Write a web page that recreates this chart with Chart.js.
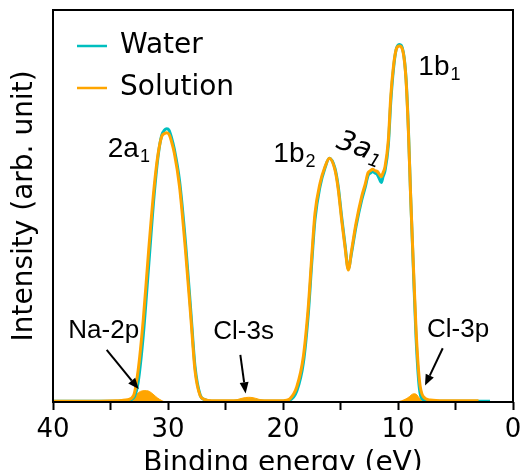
<!DOCTYPE html>
<html>
<head>
<meta charset="utf-8">
<script src="https://cdn.jsdelivr.net/npm/chart.js@4.4.1/dist/chart.umd.min.js"></script>
<style>
  html, body { margin: 0; padding: 0; background: #fff; }
  #wrap { width: 522px; height: 470px; overflow: hidden; }
</style>
</head>
<body>
<div id="wrap"><canvas id="xpsChart" width="522" height="470"></canvas></div>
<script>
// binding energy grid (eV) shared by both spectra
const energy = [
  40, 38, 36, 34.5, 34, 33.5, 33.0, 32.6, 32.15, 31.7,
  31.2, 30.85, 30.55, 30.3, 30.1, 29.9, 29.7, 29.45, 29.0, 28.46,
  28.0, 27.65, 27.2, 26.8, 26.2, 25, 24, 23, 22, 21,
  20, 19.8, 19.4, 18.8, 18.23, 17.8, 17.5, 17.22, 16.78, 16.35,
  15.97, 15.48, 15.19, 14.9, 14.61, 14.32, 14.03, 13.65, 13.16, 12.85,
  12.6, 12.4, 12.2, 12.0, 11.8, 11.6, 11.45, 11.3, 11.13, 10.84,
  10.63, 10.4, 10.17, 9.89, 9.54, 9.3, 9.1, 8.9, 8.67, 8.43,
  8.14, 7.8, 7.2, 6, 5, 4, 3, 2
];
const solution = [
  .002, .002, .002, .003, .004, .006, .016, .08, .21, .38,
  .55, .635, .677, .685, .687, .682, .665, .635, .55, .38,
  .21, .08, .016, .006, .003, .003, .003, .003, .003, .003,
  .003, .004, .008, .039, .116, .243, .371, .481, .558, .60,
  .622, .592, .541, .464, .396, .337, .388, .456, .524, .556,
  .585, .59, .594, .59, .588, .58, .575, .585, .60, .668,
  .779, .855, .898, .908, .89, .821, .694, .524, .354, .184,
  .056, .0135, .005, .003, .003, .003, .003, null
];
const water = [
  .002, .002, .002, .002, .003, .004, .010, .05, .17, .34,
  .53, .63, .68, .694, .697, .693, .675, .645, .565, .40,
  .225, .09, .018, .006, .002, .002, .002, .002, .002, .002,
  .002, .003, .005, .028, .10, .225, .355, .465, .55, .597,
  .622, .596, .548, .472, .402, .34, .382, .448, .515, .548,
  .578, .584, .588, .584, .58, .568, .56, .575, .59, .655,
  .765, .848, .898, .912, .893, .825, .70, .525, .345, .165,
  .035, .006, .002, .002, .002, .002, .002, .002
];
// solution minus water (Na-2p, Cl-3s, Cl-3p contributions)
const diffEnergy = [
  40, 33.3, 33.0, 32.7, 32.4, 32.0, 31.7, 31.3, 30.9, 30.5, 30.2,
  25.2, 24.6, 24.0, 23.5, 23.0, 22.6, 22.1, 21.5, 20.8,
  10.2, 9.7, 9.3, 9.0, 8.75, 8.55, 8.35, 8.15, 7.95, 7.7,
  2
];
const diffIntensity = [
  0, 0, .006, .02, .027, .029, .028, .02, .01, .003, 0,
  0, .002, .006, .01, .012, .011, .007, .003, 0,
  0, .003, .008, .014, .02, .021, .018, .01, .004, 0,
  0
];
const xTickLabels = [0, 10, 20, 30, 40];

const orange = '#ffa500';
const cyan = '#00bfbf';

const peakLabels = [
  { text: '2a', sub: '1', e: 35.24, v: 0.626 },
  { text: '1b', sub: '2', e: 20.84, v: 0.611 },
  { text: '1b', sub: '1', e: 8.23, v: 0.834 }
];
const markerLabels = [
  { text: 'Na-2p', e: 38.67, v: 0.1625, from: [35.33, 0.133], to: [32.55, 0.033] },
  { text: 'Cl-3s', e: 26.06, v: 0.16, from: [23.71, 0.12], to: [23.25, 0.022] },
  { text: 'Cl-3p', e: 7.48, v: 0.167, from: [6.11, 0.137], to: [7.65, 0.042] }
];

function toPoints(xs, ys) {
  return xs.map((x, i) => ({ x: x, y: ys[i] }));
}

function drawArrow(ctx, x0, y0, x1, y1) {
  const ang = Math.atan2(y1 - y0, x1 - x0);
  const head = 11, half = 4.5;
  const bx = x1 - head * Math.cos(ang), by = y1 - head * Math.sin(ang);
  ctx.lineWidth = 2;
  ctx.beginPath(); ctx.moveTo(x0, y0); ctx.lineTo(bx, by); ctx.stroke();
  ctx.beginPath();
  ctx.moveTo(x1, y1);
  ctx.lineTo(bx + half * Math.sin(ang), by - half * Math.cos(ang));
  ctx.lineTo(bx - half * Math.sin(ang), by + half * Math.cos(ang));
  ctx.closePath(); ctx.fill();
}

const overlay = {
  id: 'overlay',
  afterDatasetsDraw(chart) {
    const { ctx, chartArea: a, scales: { x, y } } = chart;
    ctx.save();
    ctx.strokeStyle = '#000';
    ctx.fillStyle = '#000';
    ctx.lineWidth = 2;
    ctx.strokeRect(a.left, a.top, a.right - a.left, a.bottom - a.top);

    // legend
    let row = 0;
    chart.data.datasets.forEach(ds => {
      if (!ds.label) return;
      const ly = a.top + 36 + row * 42;
      ctx.strokeStyle = ds.borderColor; ctx.lineWidth = 2.5;
      ctx.beginPath(); ctx.moveTo(a.left + 24, ly); ctx.lineTo(a.left + 54, ly); ctx.stroke();
      ctx.fillStyle = '#000';
      ctx.font = '28px "DejaVu Sans"';
      ctx.textBaseline = 'middle'; ctx.textAlign = 'left';
      ctx.fillText(ds.label, a.left + 67, ly);
      row++;
    });

    // peak labels with subscripts
    ctx.textBaseline = 'alphabetic';
    ctx.fillStyle = '#000'; ctx.strokeStyle = '#000';
    peakLabels.forEach(p => {
      const px = x.getPixelForValue(p.e), py = y.getPixelForValue(p.v);
      ctx.font = '28px "Liberation Sans"';
      ctx.fillText(p.text, px, py);
      const w = ctx.measureText(p.text).width;
      ctx.font = '18px "Liberation Sans"';
      ctx.fillText(p.sub, px + w + 1, py + 5);
    });

    // rotated 3a1
    ctx.save();
    ctx.translate(x.getPixelForValue(15.48), y.getPixelForValue(0.65));
    ctx.rotate(20 * Math.PI / 180);
    ctx.font = 'italic 28px "DejaVu Sans"';
    ctx.fillText('3a', 0, 0);
    const w3 = ctx.measureText('3a').width;
    ctx.font = 'italic 18px "DejaVu Sans"';
    ctx.fillText('1', w3 + 1, 5);
    ctx.restore();

    // ion labels + arrows
    markerLabels.forEach(m => {
      ctx.font = '26px "Liberation Sans"';
      ctx.fillText(m.text, x.getPixelForValue(m.e), y.getPixelForValue(m.v));
      drawArrow(ctx,
        x.getPixelForValue(m.from[0]), y.getPixelForValue(m.from[1]),
        x.getPixelForValue(m.to[0]), y.getPixelForValue(m.to[1]));
    });
    ctx.restore();
  }
};

new Chart('xpsChart', {
  type: 'line',
  data: {
    datasets: [
      {
        label: 'Water',
        data: toPoints(energy, water),
        borderColor: cyan,
        borderWidth: 3,
        pointRadius: 0,
        cubicInterpolationMode: 'monotone',
        fill: false,
        order: 2
      },
      {
        label: 'Solution',
        data: toPoints(energy, solution),
        borderColor: orange,
        borderWidth: 3,
        pointRadius: 0,
        cubicInterpolationMode: 'monotone',
        fill: false,
        order: 1
      },
      {
        label: '',
        data: toPoints(diffEnergy, diffIntensity),
        borderColor: orange,
        backgroundColor: orange,
        borderWidth: 1,
        pointRadius: 0,
        cubicInterpolationMode: 'monotone',
        fill: 'origin',
        order: 3
      }
    ]
  },
  options: {
    responsive: false,
    animation: false,
    devicePixelRatio: 1,
    layout: { padding: { top: 10, right: 9, left: 0, bottom: 0 } },
    plugins: { legend: { display: false }, tooltip: { enabled: false } },
    scales: {
      x: {
        type: 'linear',
        min: 0,
        max: 40,
        reverse: true,
        afterFit: s => { s.height = 68; s.paddingLeft = 0; s.paddingRight = 0; },
        border: { display: false },
        grid: { drawOnChartArea: false, drawTicks: true, tickLength: 8, tickWidth: 2, tickColor: '#000' },
        ticks: {
          stepSize: 5,
          autoSkip: false,
          maxRotation: 0,
          padding: 5,
          color: '#000',
          font: { family: 'DejaVu Sans', size: 26 },
          callback: v => xTickLabels.includes(v) ? String(v) : ''
        },
        title: {
          display: true,
          text: 'Binding energy (eV)',
          color: '#000',
          padding: 0,
          font: { family: 'DejaVu Sans', size: 28, lineHeight: 0.45 }
        }
      },
      y: {
        min: 0,
        max: 1,
        afterFit: s => { s.width = 53; },
        border: { display: false },
        grid: { display: false },
        ticks: { display: false },
        title: {
          display: true,
          text: 'Intensity (arb. unit)',
          color: '#000',
          padding: { top: 14, bottom: 0 },
          font: { family: 'DejaVu Sans', size: 28, lineHeight: 0.8 }
        }
      }
    }
  },
  plugins: [overlay]
});
</script>
</body>
</html>
